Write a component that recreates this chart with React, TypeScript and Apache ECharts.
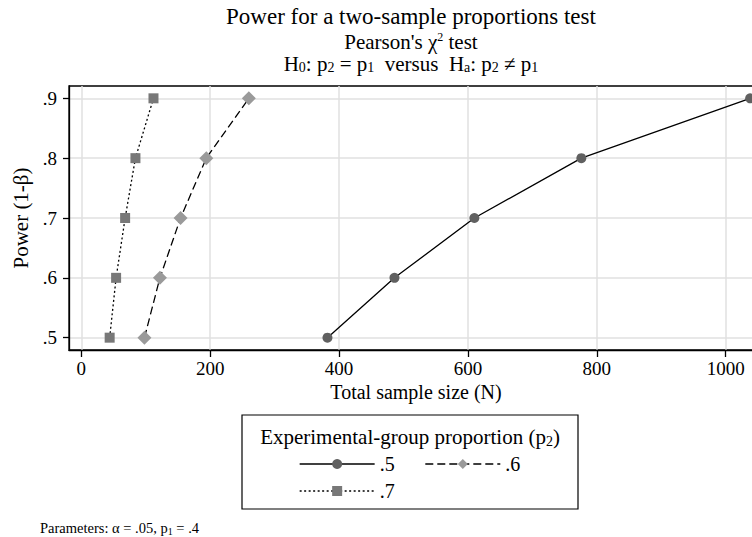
import React, { useEffect, useRef } from 'react';
import * as echarts from 'echarts';

// ---- data ----
const powerLevels = [0.5, 0.6, 0.7, 0.8, 0.9];
const seriesNames = ['.5', '.6', '.7'];
const nP2_05 = [382, 486, 610, 776, 1038];
const nP2_06 = [98, 122, 154, 194, 260];
const nP2_07 = [44, 54, 68, 84, 112];
const xTicks = [0, 200, 400, 600, 800, 1000];
const yTicks = [0.5, 0.6, 0.7, 0.8, 0.9];

const FONT = '"Liberation Serif", "Times New Roman", serif';

const pairs = (xs: number[], ys: number[]) => xs.map((x, i) => [x, ys[i]]);

const makeRich = (sub: number) => ({
  sub: { fontSize: sub, verticalAlign: 'bottom', lineHeight: sub - 2, fontFamily: FONT, color: '#000' },
  sup: { fontSize: sub - 1, verticalAlign: 'top', lineHeight: sub - 2, fontFamily: FONT, color: '#000' },
});

export default function App() {
  const ref = useRef<HTMLDivElement>(null);
  useEffect(() => {
    if (!ref.current) return;
    const chart = echarts.init(ref.current, null, { renderer: 'svg' });
    const titleStyle = (size: number, lh: number, sub: number) => ({
      fontSize: size,
      fontWeight: 'normal',
      color: '#000',
      fontFamily: FONT,
      lineHeight: lh,
      rich: makeRich(sub),
    });
    const legendBase = {
      left: 299,
      orient: 'horizontal',
      itemWidth: 75,
      itemHeight: 12.5,
      itemGap: 30,
      itemTextGap: 16,
      padding: 0,
      selectedMode: false,
      textStyle: { fontSize: 20, color: '#000', fontFamily: FONT },
      lineStyle: { width: 1.3 },
    };
    const option: any = {
      animation: false,
      backgroundColor: '#fff',
      textStyle: { fontFamily: FONT },
      title: [
        { text: 'Power for a two-sample proportions test', left: 411, top: 3, textAlign: 'center', padding: 0, textStyle: titleStyle(23, 26, 14) },
        { text: "Pearson's χ{sup|2} test", left: 411, top: 31, textAlign: 'center', padding: 0, textStyle: titleStyle(21, 21, 13) },
        { text: 'H{sub|0}: p{sub|2} = p{sub|1}  versus  H{sub|a}: p{sub|2} ≠ p{sub|1}', left: 411, top: 53, textAlign: 'center', padding: 0, textStyle: titleStyle(21, 21, 14) },
        { text: 'Experimental-group proportion (p{sub|2})', left: 410, top: 426, textAlign: 'center', padding: 0, textStyle: titleStyle(21, 22, 14) },
        { text: 'Parameters: α = .05, p{sub|1} = .4', left: 40, top: 520, padding: 0, textStyle: titleStyle(14.5, 16, 10) },
      ],
      grid: {
        left: 69,
        top: 86,
        width: 694,
        height: 264,
        outerBoundsMode: 'none',
        containLabel: false,
        show: true,
        borderColor: '#000',
        borderWidth: 1.3,
        backgroundColor: 'transparent',
      },
      xAxis: {
        type: 'value',
        min: -19.1,
        max: 1057.9,
        axisLine: { show: true, onZero: false, lineStyle: { color: '#000', width: 1.3 } },
        axisTick: { show: true, length: 7, customValues: xTicks, lineStyle: { color: '#000', width: 1.3 } },
        axisLabel: {
          customValues: xTicks,
          fontSize: 19,
          color: '#000',
          fontFamily: FONT,
          margin: 9,
          formatter: (v: number) => String(Math.round(v)),
        },
        splitLine: { show: true, lineStyle: { color: '#e1e1e1', width: 1.5 } },
        name: 'Total sample size (N)',
        nameLocation: 'middle',
        nameGap: 32,
        nameTextStyle: { fontSize: 20, color: '#000', fontFamily: FONT },
      },
      yAxis: {
        type: 'value',
        min: 0.4794,
        max: 0.9206,
        axisLine: { show: true, onZero: false, lineStyle: { color: '#000', width: 1.3 } },
        axisTick: { show: true, length: 6, customValues: yTicks, lineStyle: { color: '#000', width: 1.3 } },
        axisLabel: {
          customValues: yTicks,
          fontSize: 19,
          color: '#000',
          fontFamily: FONT,
          margin: 12,
          formatter: (v: number) => v.toFixed(1).replace(/^0/, ''),
        },
        splitLine: { show: true, lineStyle: { color: '#e1e1e1', width: 1.5 } },
        name: 'Power (1-β)',
        nameLocation: 'middle',
        nameGap: 36,
        nameRotate: 90,
        nameTextStyle: { fontSize: 21, color: '#000', fontFamily: FONT },
      },
      legend: [
        { ...legendBase, data: [seriesNames[0], seriesNames[1]], top: 454 },
        { ...legendBase, data: [seriesNames[2]], top: 481 },
      ],
      graphic: [
        {
          type: 'rect',
          silent: true,
          shape: { x: 242, y: 415, width: 336, height: 94 },
          style: { fill: 'none', stroke: '#000', lineWidth: 1.2 },
        },
      ],
      series: [
        {
          name: seriesNames[0],
          type: 'line',
          data: pairs(nP2_05, powerLevels),
          symbol: 'circle',
          symbolSize: 10,
          itemStyle: { color: '#606060' },
          lineStyle: { color: '#000', width: 1.3, type: 'solid' },
        },
        {
          name: seriesNames[1],
          type: 'line',
          data: pairs(nP2_06, powerLevels),
          symbol: 'diamond',
          symbolSize: 14,
          itemStyle: { color: '#9a9a9a' },
          lineStyle: { color: '#000', width: 1.3, type: [8, 4] },
        },
        {
          name: seriesNames[2],
          type: 'line',
          data: pairs(nP2_07, powerLevels),
          symbol: 'rect',
          symbolSize: 10,
          itemStyle: { color: '#787878' },
          lineStyle: { color: '#000', width: 1.3, type: [2, 2.5] },
        },
      ],
    };
    chart.setOption(option);
    return () => chart.dispose();
  }, []);
  return <div ref={ref} style={{ position: 'fixed', left: 0, top: 0, width: 752, height: 537 }} />;
}
